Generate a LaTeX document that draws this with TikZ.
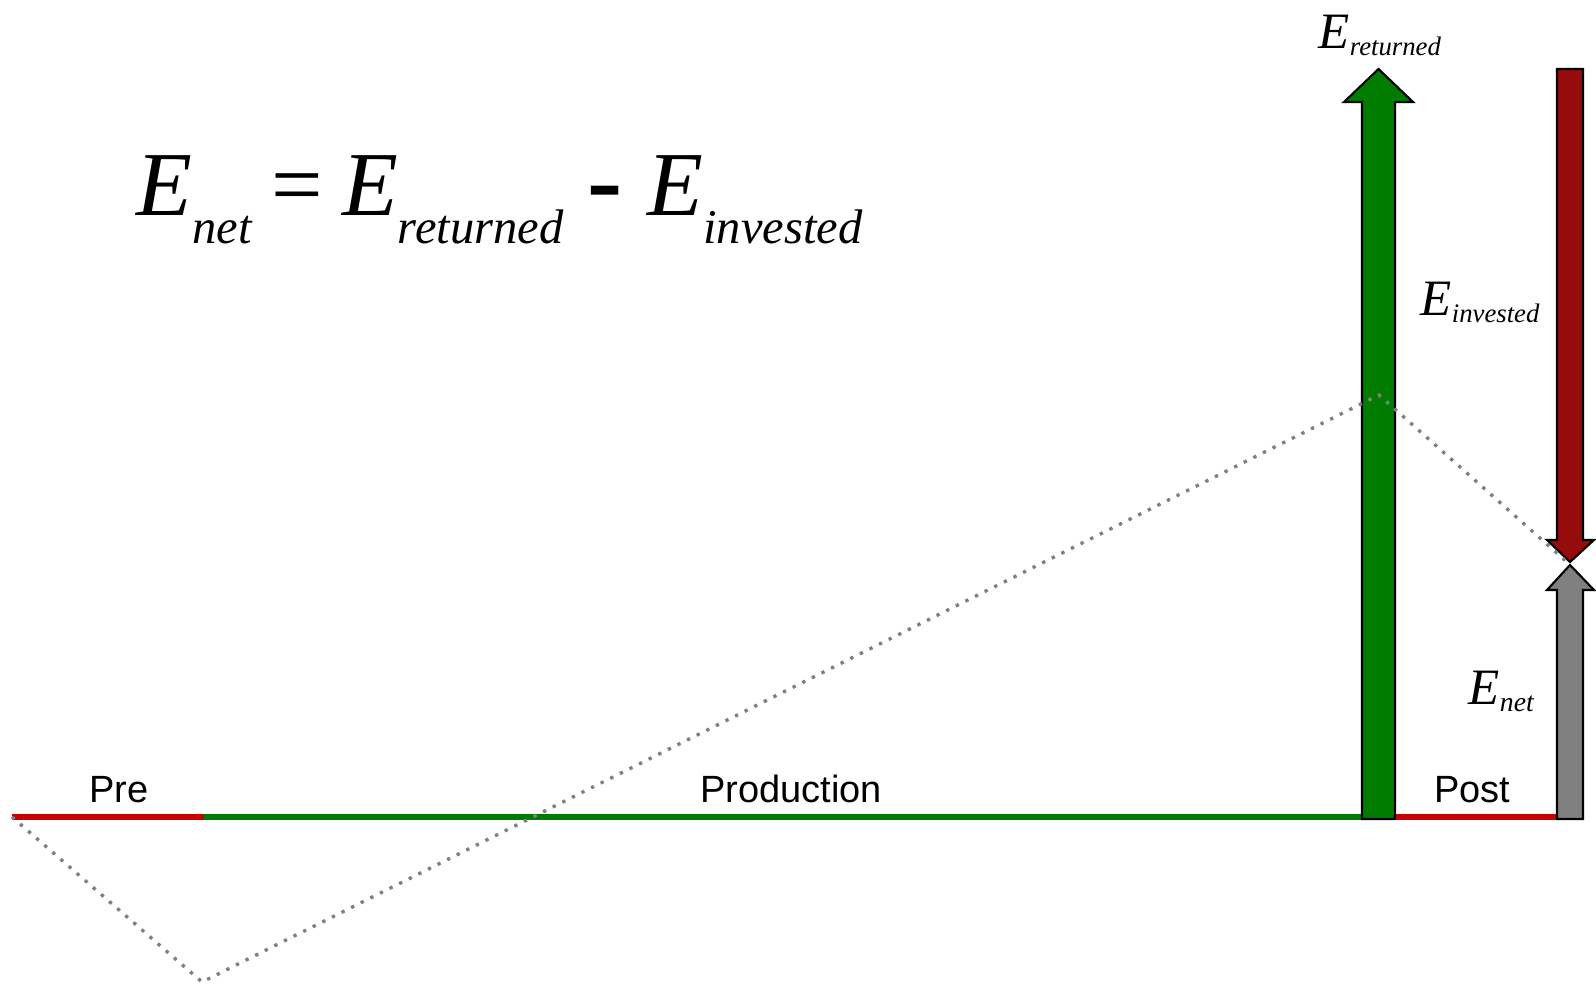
\documentclass[tikz,border=0pt]{standalone}
\usepackage{fontspec}
\setmainfont{Liberation Serif}
\newfontfamily\phasefont{Liberation Sans}
\definecolor{prodgreen}{RGB}{0,125,0}
\definecolor{costred}{RGB}{150,12,12}
\definecolor{lossred}{RGB}{200,0,0}
\definecolor{netgray}{RGB}{128,128,128}
\newcommand{\energy}[4]{{\fontsize{#1}{#1}\selectfont\itshape E\raisebox{-#3em}{\fontsize{#2}{#2}\selectfont #4}}}
\begin{document}
\begin{tikzpicture}[x={(0.01cm,0cm)},y={(0cm,-0.01cm)},
    phase/.style={font=\phasefont\fontsize{10.8}{10.8}\selectfont,anchor=base,inner sep=0pt},
    tag/.style={anchor=base west,inner sep=0pt},
    bar/.style={draw=black,line width=0.6pt,line join=miter},
    axisline/.style={line width=1.9pt}]
    \useasboundingbox (0,0) rectangle (1596,986);
    \coordinate (pre start) at (12,817);
    \coordinate (pre end) at (204,817);
    \coordinate (post start) at (1379,817);
    \coordinate (post end) at (1573,817);
    \coordinate (dip) at (202,982);
    \coordinate (peak) at (1379,395);
    \coordinate (meet) at (1568,563);
    \draw[axisline,lossred] (pre start) -- (pre end);
    \draw[axisline,prodgreen] (pre end) -- (post start);
    \draw[axisline,lossred] (post start) -- (post end);
    \filldraw[bar,fill=prodgreen] (1362,819) -- (1362,102) -- (1344,102) -- (1378.5,69) -- (1413,102) -- (1395,102) -- (1395,819) -- cycle;
    \filldraw[bar,fill=costred] (1557,69) -- (1583,69) -- (1583,540) -- (1594,540) -- (1570,562) -- (1547,540) -- (1557,540) -- cycle;
    \filldraw[bar,fill=netgray] (1557,819) -- (1557,590) -- (1547,590) -- (1570,565) -- (1594,590) -- (1583,590) -- (1583,819) -- cycle;
    \draw[netgray,line width=0.95pt,dash pattern=on 0.95pt off 2.1pt] (pre start) -- (dip) -- (peak) -- (meet);
    \node[phase] (pre) at (119,803) {Pre};
    \node[phase] (production) at (791,803) {Production};
    \node[phase] (post) at (1472,803) {Post};
    \node[tag] (returned) at (1318,49) {\energy{14.5}{7.6}{0.12}{returned}};
    \node[tag] (invested) at (1420,316) {\energy{14.5}{7.6}{0.12}{invested}};
    \node[tag] (net) at (1468,705) {\energy{14.5}{7.9}{0.12}{net}};
    \node[tag] (balance) at (136,216) {\energy{26}{13.8}{0.30}{net}\hspace{5.5pt}{\fontsize{26}{26}\selectfont =}\hspace{5.5pt}\energy{26}{13.8}{0.30}{returned}\hspace{7pt}{\fontsize{30}{30}\selectfont\bfseries -}\hspace{7pt}\energy{26}{13.8}{0.30}{invested}};
\end{tikzpicture}
\end{document}
